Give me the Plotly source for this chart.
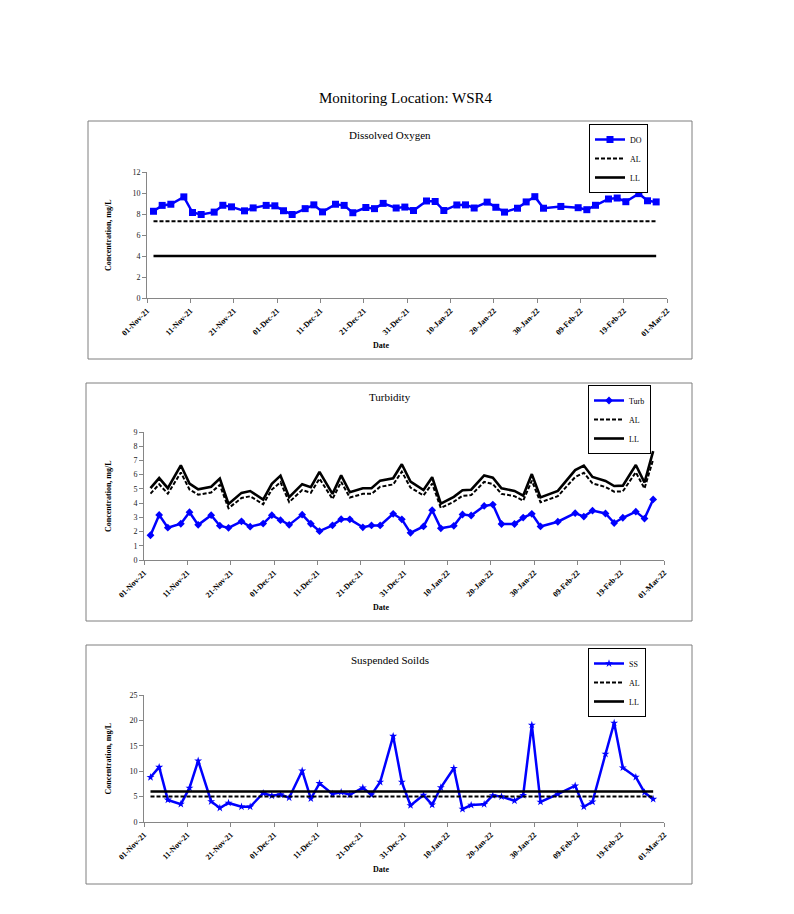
import pandas as pd
import plotly.graph_objects as go

# ---------------- data ----------------
dates = ["2021-11-02", "2021-11-04", "2021-11-06", "2021-11-09", "2021-11-11", "2021-11-13",
         "2021-11-16", "2021-11-18", "2021-11-20", "2021-11-23", "2021-11-25", "2021-11-28",
         "2021-11-30", "2021-12-02", "2021-12-04", "2021-12-07", "2021-12-09", "2021-12-11",
         "2021-12-14", "2021-12-16", "2021-12-18", "2021-12-21", "2021-12-23", "2021-12-25",
         "2021-12-28", "2021-12-30", "2022-01-01", "2022-01-04", "2022-01-06", "2022-01-08",
         "2022-01-11", "2022-01-13", "2022-01-15", "2022-01-18", "2022-01-20", "2022-01-22",
         "2022-01-25", "2022-01-27", "2022-01-29", "2022-01-31", "2022-02-04", "2022-02-08",
         "2022-02-10", "2022-02-12", "2022-02-15", "2022-02-17", "2022-02-19", "2022-02-22",
         "2022-02-24", "2022-02-26"]

do_vals = [8.26, 8.82, 8.93, 9.63, 8.14, 7.95, 8.18, 8.83, 8.68, 8.30,
           8.58, 8.82, 8.78, 8.31, 7.95, 8.51, 8.87, 8.20, 8.93, 8.82,
           8.12, 8.62, 8.51, 9.01, 8.57, 8.66, 8.33, 9.24, 9.19, 8.33,
           8.86, 8.87, 8.57, 9.13, 8.64, 8.18, 8.55, 9.15, 9.65, 8.55,
           8.72, 8.60, 8.41, 8.83, 9.43, 9.52, 9.17, 9.94, 9.26, 9.15]
do_al = 7.3
do_ll = 4.0

turb_vals = [1.74, 3.17, 2.27, 2.55, 3.36, 2.47, 3.15, 2.41, 2.26, 2.72,
             2.34, 2.56, 3.15, 2.80, 2.47, 3.19, 2.55, 2.03, 2.44, 2.87,
             2.86, 2.30, 2.43, 2.43, 3.25, 2.86, 1.91, 2.36, 3.50, 2.23,
             2.40, 3.20, 3.13, 3.80, 3.90, 2.53, 2.53, 2.98, 3.25, 2.36,
             2.69, 3.29, 3.05, 3.47, 3.27, 2.60, 2.97, 3.40, 2.91, 4.26]
turb_al = [4.67, 5.32, 4.66, 6.15, 4.96, 4.59, 4.75, 5.28, 3.64, 4.36,
           4.48, 3.92, 4.95, 5.47, 4.07, 4.92, 4.73, 5.72, 4.29, 5.49,
           4.39, 4.65, 4.65, 5.15, 5.31, 6.21, 5.09, 4.54, 5.37, 3.66,
           4.10, 4.52, 4.56, 5.49, 5.34, 4.65, 4.49, 4.17, 5.58, 4.06,
           4.49, 5.83, 6.13, 5.39, 5.13, 4.80, 4.83, 6.17, 5.03, 7.07]
turb_ll = [5.06, 5.76, 5.05, 6.66, 5.37, 4.97, 5.15, 5.72, 3.94, 4.72,
           4.85, 4.25, 5.36, 5.93, 4.41, 5.33, 5.12, 6.20, 4.65, 5.95,
           4.76, 5.04, 5.04, 5.58, 5.75, 6.73, 5.51, 4.92, 5.82, 3.96,
           4.44, 4.90, 4.94, 5.95, 5.79, 5.04, 4.86, 4.52, 6.04, 4.40,
           4.86, 6.32, 6.64, 5.84, 5.56, 5.20, 5.23, 6.68, 5.45, 7.66]

ss_vals = [8.80, 10.80, 4.35, 3.52, 6.70, 12.05, 4.04, 2.76, 3.75, 3.00,
           3.00, 5.66, 5.17, 5.39, 4.77, 10.10, 4.60, 7.60, 5.53, 5.86,
           5.36, 6.74, 5.36, 7.86, 16.90, 7.86, 3.26, 5.30, 3.39, 6.78,
           10.58, 2.54, 3.33, 3.49, 5.23, 5.00, 4.18, 5.27, 19.10, 3.95,
           5.50, 7.14, 3.00, 3.98, 13.39, 19.50, 10.69, 8.84, 5.83, 4.50]
ss_al = 5.0
ss_ll = 6.0

main_title = "Monitoring Location: WSR4"
panel_titles = ["Dissolved Oxygen", "Turbidity", "Suspended Soilds"]
y_title = "Concentration, mg/L"
x_title = "Date"

# ---------------- helpers ----------------
W, H = 794, 914
FONT = "Liberation Serif, Times New Roman, serif"
BLUE = "#0000FF"

def px(x):
    return x / W

def py(y):
    return 1 - y / H

# Excel places date points in the middle of the day
xd = list(pd.to_datetime(dates) + pd.Timedelta(hours=12))
xends = [xd[0], xd[-1]]

fig = go.Figure()

panels = [
    dict(ax="", leg="legend", plot=(147, 667, 172, 298), box=(88, 692, 121, 359),
         yr=[0, 12], dt=2, legxy=(589, 124)),
    dict(ax="2", leg="legend2", plot=(144, 664, 432, 560), box=(86, 692, 383, 621),
         yr=[0, 9], dt=1, legxy=(588, 385)),
    dict(ax="3", leg="legend3", plot=(144, 664, 695, 822), box=(86, 692, 645, 884),
         yr=[0, 25], dt=5, legxy=(588, 648)),
]

series = [
    [("DO", do_vals, "main", "square", 7), ("AL", [do_al, do_al], "al", None, 0),
     ("LL", [do_ll, do_ll], "ll", None, 0)],
    [("Turb", turb_vals, "main", "diamond", 6), ("AL", turb_al, "al", None, 0),
     ("LL", turb_ll, "ll", None, 0)],
    [("SS", ss_vals, "main", "star", 6), ("AL", [ss_al, ss_al], "al", None, 0),
     ("LL", [ss_ll, ss_ll], "ll", None, 0)],
]

for p, sers in zip(panels, series):
    xa = "x" + p["ax"]
    ya = "y" + p["ax"]
    for name, vals, kind, sym, msize in sers:
        xs = xd if len(vals) == len(xd) else xends
        if kind == "main":
            tr = go.Scatter(x=xs, y=vals, name=name, mode="lines+markers",
                            line=dict(color=BLUE, width=2.5),
                            marker=dict(symbol=sym, size=msize, color=BLUE))
        elif kind == "al":
            tr = go.Scatter(x=xs, y=vals, name=name, mode="lines",
                            line=dict(color="black", width=2, dash="4px,2px"))
        else:
            tr = go.Scatter(x=xs, y=vals, name=name, mode="lines",
                            line=dict(color="black", width=2.6))
        tr.update(xaxis=xa, yaxis=ya, legend=p["leg"])
        fig.add_trace(tr)

layout = dict(
    template="none",
    width=W, height=H, margin=dict(l=0, r=0, t=0, b=0, pad=0, autoexpand=False),
    paper_bgcolor="white", plot_bgcolor="white",
    font=dict(family=FONT, color="black", size=9),
    showlegend=True,
)

shapes = []
annotations = [dict(text=main_title, x=px(406), y=py(98), xref="paper", yref="paper",
                    showarrow=False, font=dict(size=15, family=FONT), xanchor="center",
                    yanchor="middle")]

title_y = [135, 397, 660]
date_y = [345, 607, 869]

for i, p in enumerate(panels):
    x0, x1, y0, y1 = p["plot"]
    sfx = p["ax"]
    layout["xaxis" + sfx] = dict(
        domain=[px(x0), px(x1)], anchor="y" + sfx, automargin=False,
        type="date", range=["2021-11-01", "2022-03-01"],
        tick0="2021-11-01", dtick=10 * 86400000, tickformat="%d-%b-%y",
        tickangle=-45, tickfont=dict(size=8, family=FONT, weight="bold", color="black"),
        showline=True, linecolor="#868686", linewidth=1,
        ticks="outside", ticklen=4, tickcolor="#868686",
        showgrid=False, zeroline=False, fixedrange=True,
    )
    layout["yaxis" + sfx] = dict(
        domain=[py(y1), py(y0)], anchor="x" + sfx, automargin=False,
        range=p["yr"], dtick=p["dt"], tick0=0,
        tickfont=dict(size=8, family=FONT, color="#222222"),
        showline=True, linecolor="#868686", linewidth=1,
        ticks="outside", ticklen=4, tickcolor="#868686",
        showgrid=False, zeroline=False, fixedrange=True,
    )
    lx, ly = p["legxy"]
    layout[p["leg"]] = dict(
        x=px(lx), y=py(ly), xanchor="left", yanchor="top",
        xref="paper", yref="paper",
        bgcolor="white", bordercolor="black", borderwidth=1,
        font=dict(size=8, family=FONT, color="black"),
        tracegroupgap=0, itemwidth=30,
    )
    bx0, bx1, by0, by1 = p["box"]
    shapes.append(dict(type="rect", xref="paper", yref="paper",
                       x0=px(bx0), x1=px(bx1), y0=py(by1), y1=py(by0),
                       line=dict(color="#7f7f7f", width=1), layer="below"))
    annotations.append(dict(text=panel_titles[i], x=px(390), y=py(title_y[i]),
                            xref="paper", yref="paper", showarrow=False,
                            font=dict(size=11, family=FONT), xanchor="center", yanchor="middle"))
    annotations.append(dict(text=y_title, x=px(108), y=py((y0 + y1) / 2),
                            xref="paper", yref="paper", showarrow=False, textangle=-90,
                            font=dict(size=8, family=FONT, weight="bold"),
                            xanchor="center", yanchor="middle"))
    annotations.append(dict(text=x_title, x=px(381), y=py(date_y[i]),
                            xref="paper", yref="paper", showarrow=False,
                            font=dict(size=8, family=FONT, weight="bold"),
                            xanchor="center", yanchor="middle"))

layout["shapes"] = shapes
layout["annotations"] = annotations
fig.update_layout(**layout)

fig.write_html("out.html", config={"displayModeBar": False},
               post_script="document.body.style.margin='0';document.body.style.overflow='hidden';")
